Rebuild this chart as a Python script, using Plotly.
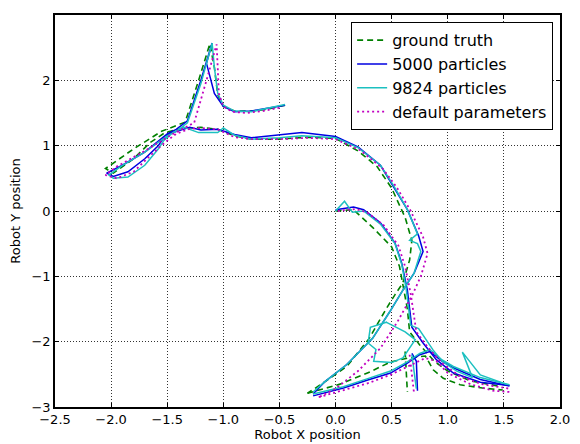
import plotly.graph_objects as go

# ---------------- data ----------------
# ground truth (green dashed)
gt_x = [-0.45, -0.6, -0.75, -0.9, -1.0, -1.05, -1.08, -1.12, -1.22, -1.34, -1.55, -1.8, -2.05, -1.98, -1.8, -1.65, -1.52, -1.35, -1.2, -1.05, -0.9, -0.75, -0.5, -0.25, 0.0, 0.2, 0.37, 0.5, 0.62, 0.68, 0.66, 0.6, 0.53, 0.45, 0.3, 0.1, -0.1, -0.25,
        None,
        -0.25, 0.04, 0.31, 0.49, 0.65, 0.8, 0.87, 0.96, 1.11, 1.31, 1.49,
        None,
        0.0, 0.16, 0.33, 0.5, 0.57, 0.61, 0.64, 0.66, 0.75, 0.88, 1.0, 1.2, 1.45,
        None,
        0.62, 0.63, 0.64]
gt_y = [1.62, 1.56, 1.53, 1.53, 1.6, 1.78, 2.2, 2.56, 2.0, 1.36, 1.22, 0.95, 0.65, 0.58, 0.8, 1.05, 1.2, 1.27, 1.28, 1.25, 1.15, 1.1, 1.1, 1.13, 1.11, 0.92, 0.68, 0.35, -0.1, -0.45, -0.75, -1.1, -1.28, -1.5, -1.95, -2.38, -2.62, -2.79,
        None,
        -2.79, -2.65, -2.46, -2.31, -2.25, -2.22, -2.43, -2.56, -2.66, -2.71, -2.74,
        None,
        0.0, 0.02, -0.25, -0.55, -0.85, -1.2, -1.5, -1.85, -2.05, -2.3, -2.45, -2.6, -2.68,
        None,
        -2.15, -2.45, -2.77]

# 5000 particles (blue)
p5000_x = [-0.45, -0.6, -0.75, -0.9, -1.0, -1.08, -1.15, -1.1, -1.2, -1.32, -1.42, -1.5, -1.7, -1.9, -2.04, -1.98, -1.85, -1.7, -1.58, -1.52, -1.45, -1.3, -1.2, -1.05, -0.9, -0.75, -0.5, -0.3, 0.0, 0.2, 0.4, 0.52, 0.64, 0.74, 0.78, 0.7, 0.6, 0.48, 0.33, 0.1, -0.1, -0.2,
           None,
           -0.2, 0.07, 0.28, 0.49, 0.64, 0.75, 0.84, 0.95, 1.05, 1.29, 1.55,
           None,
           0.0, 0.16, 0.25, 0.4, 0.53, 0.59, 0.64, 0.68, 0.78, 0.9, 1.05, 1.29, 1.55,
           None,
           0.68, 0.72, 0.73]
p5000_y = [1.62, 1.57, 1.53, 1.52, 1.6, 1.8, 2.26, 2.57, 2.0, 1.38, 1.25, 1.18, 0.9, 0.7, 0.58, 0.53, 0.6, 0.8, 1.0, 1.15, 1.2, 1.28, 1.24, 1.25, 1.17, 1.12, 1.16, 1.2, 1.14, 0.98, 0.7, 0.37, 0.02, -0.38, -0.62, -0.95, -1.21, -1.55, -1.95, -2.35, -2.62, -2.8,
           None,
           -2.83, -2.71, -2.59, -2.48, -2.33, -2.2, -2.15, -2.3, -2.4, -2.58, -2.68,
           None,
           0.02, 0.06, 0.02, -0.18, -0.49, -0.8, -1.21, -1.78, -2.02, -2.28, -2.48, -2.62, -2.67,
           None,
           -2.18, -2.3, -2.75]

# 9824 particles (cyan)
p9824_x = [-0.45, -0.6, -0.75, -0.9, -1.0, -1.05, -1.08, -1.1, -1.2, -1.32, -1.42, -1.5, -1.7, -1.9, -2.02, -1.98, -1.85, -1.7, -1.58, -1.53, -1.45, -1.35, -1.22, -1.05, -1.0, -0.9, -0.75, -0.5, -0.3, 0.0, 0.2, 0.4, 0.52, 0.64, 0.73, 0.66, 0.73, 0.76, 0.7, 0.6, 0.48, 0.33, 0.1, -0.1, -0.2,
           None,
           -0.2, 0.07, 0.28, 0.49, 0.64, 0.75, 0.84, 0.95, 1.05, 1.29, 1.55,
           None,
           0.0, 0.08, 0.15, 0.25, 0.4, 0.53, 0.59, 0.63, 0.67, 0.74, 0.87, 0.95, 1.08, 1.22, 1.13, 1.29, 1.52,
           None,
           0.46, 0.42, 0.31, 0.29, 0.36, 0.34, 0.5, 0.6, 0.71, 0.62, 0.45,
           None,
           0.68, 0.7, 0.72]
p9824_y = [1.63, 1.57, 1.52, 1.53, 1.62, 1.8, 2.2, 2.57, 1.95, 1.35, 1.22, 1.15, 0.9, 0.7, 0.55, 0.5, 0.52, 0.7, 0.95, 1.08, 1.2, 1.28, 1.2, 1.2, 1.27, 1.16, 1.1, 1.12, 1.15, 1.12, 0.97, 0.7, 0.38, 0.02, -0.35, -0.45, -0.5, -0.62, -0.95, -1.21, -1.55, -1.95, -2.35, -2.62, -2.77,
           None,
           -2.8, -2.69, -2.57, -2.45, -2.31, -2.18, -2.12, -2.28, -2.38, -2.55, -2.66,
           None,
           0.0, 0.15, -0.02, 0.0, -0.2, -0.5, -0.82, -1.2, -1.75, -1.8, -2.13, -2.3, -2.45, -2.55, -2.16, -2.51, -2.65,
           None,
           -1.7, -1.72, -1.78, -2.02, -2.12, -2.3, -2.32, -2.25, -1.97, -1.85, -1.7,
           None,
           -2.2, -2.45, -2.72]

# default parameters (magenta dotted)
default_x = [-0.5, -0.65, -0.8, -0.92, -1.0, -1.04, -1.05, -1.06, -1.15, -1.26, -1.45, -1.7, -1.95, -2.05, -1.95, -1.8, -1.65, -1.52, -1.42, -1.3, -1.2, -1.05, -0.9, -0.75, -0.5, -0.25, 0.0, 0.22, 0.42, 0.55, 0.67, 0.78, 0.82, 0.76, 0.68, 0.55, 0.4, 0.2, 0.0, -0.15,
             None,
             -0.15, 0.1, 0.3, 0.5, 0.65, 0.8, 0.9, 1.0, 1.2, 1.4, 1.55,
             None,
             0.02, 0.18, 0.28, 0.43, 0.56, 0.62, 0.67, 0.72, 0.82, 0.95, 1.1, 1.3, 1.55,
             None,
             0.66, 0.68, 0.7]
default_y = [1.58, 1.53, 1.5, 1.52, 1.6, 1.8, 2.2, 2.55, 2.0, 1.35, 1.18, 0.92, 0.68, 0.55, 0.5, 0.6, 0.85, 1.05, 1.18, 1.26, 1.27, 1.25, 1.13, 1.1, 1.1, 1.12, 1.1, 0.93, 0.65, 0.35, 0.0, -0.4, -0.65, -1.0, -1.3, -1.7, -2.1, -2.45, -2.72, -2.85,
             None,
             -2.85, -2.73, -2.63, -2.5, -2.38, -2.25, -2.3, -2.48, -2.65, -2.75, -2.77,
             None,
             0.0, 0.03, -0.02, -0.22, -0.53, -0.85, -1.27, -1.85, -2.08, -2.33, -2.52, -2.65, -2.72,
             None,
             -2.2, -2.5, -2.8]

x_ticks = [-2.5, -2.0, -1.5, -1.0, -0.5, 0.0, 0.5, 1.0, 1.5, 2.0]
y_ticks = [-3, -2, -1, 0, 1, 2, 3]

FONT = "DejaVu Sans"

fig = go.Figure()
fig.add_trace(go.Scatter(x=gt_x, y=gt_y, mode="lines", name="ground truth",
                         line=dict(color="#008000", width=1.6, dash="6px,4px")))
fig.add_trace(go.Scatter(x=p5000_x, y=p5000_y, mode="lines", name="5000 particles",
                         line=dict(color="#0000e0", width=1.5)))
fig.add_trace(go.Scatter(x=p9824_x, y=p9824_y, mode="lines", name="9824 particles",
                         line=dict(color="#1cc0c0", width=1.5)))
fig.add_trace(go.Scatter(x=default_x, y=default_y, mode="lines", name="default parameters",
                         line=dict(color="#c000c0", width=1.8, dash="2px,3px")))

axis_common = dict(showgrid=True, gridcolor="#333333", gridwidth=0.8, griddash="1px,2px",
                   zeroline=False, showline=True, linecolor="black", linewidth=1.5,
                   mirror="ticks", ticks="inside", ticklen=4, tickcolor="black",
                   tickfont=dict(family=FONT, size=13, color="black"))

fig.update_xaxes(range=[-2.5, 2.0], tickvals=x_ticks,
                 ticktext=[f"{v:.1f}".replace("-", "\u2212") for v in x_ticks],
                 title=dict(text="Robot X position", font=dict(family=FONT, size=13, color="black"), standoff=2),
                 **axis_common)
fig.update_yaxes(range=[-3, 3], tickvals=y_ticks,
                 ticktext=[str(v).replace("-", "\u2212") for v in y_ticks],
                 title=dict(text="Robot Y position", font=dict(family=FONT, size=13, color="black"), standoff=8),
                 **axis_common)

# the page body has an 8px margin, so the figure is sized 8px smaller
fig.update_layout(
    width=572, height=436,
    margin=dict(l=47, r=20, t=7, b=37, autoexpand=False),
    paper_bgcolor="white", plot_bgcolor="white",
    font=dict(family=FONT, color="black"),
    showlegend=True,
    legend=dict(x=0.986, y=0.982, xanchor="right", yanchor="top",
                bgcolor="white", bordercolor="black", borderwidth=1.2,
                font=dict(family=FONT, size=16, color="black"),
                tracegroupgap=0, itemwidth=30),
)

fig.write_html("out.html")
